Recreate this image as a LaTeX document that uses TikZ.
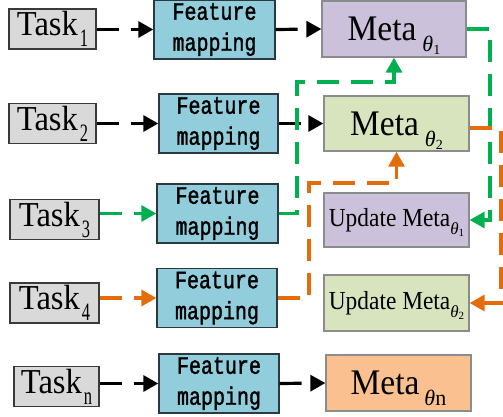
\documentclass[tikz,border=0pt]{standalone}
\usepackage{fontspec}
\usetikzlibrary{arrows.meta}
\newfontfamily\tfont[FakeStretch=0.93]{Liberation Serif}
\newfontfamily\ufont[FakeStretch=0.9]{Liberation Serif}
\newfontfamily\tsubfont[FakeStretch=0.66]{Liberation Serif}
\newfontfamily\mfont[FakeStretch=0.8,FakeBold=1.5]{Liberation Mono}
\newfontfamily\gfont{Liberation Serif}
\definecolor{taskfill}{HTML}{D9D9D9}
\definecolor{taskline}{HTML}{3A3A3A}
\definecolor{fmfill}{HTML}{92CDDC}
\definecolor{fmline}{HTML}{2B3A40}
\definecolor{metaline}{HTML}{8C8C8C}
\definecolor{purp}{HTML}{CCC1DA}
\definecolor{lgreen}{HTML}{D7E4BD}
\definecolor{peach}{HTML}{FAC090}
\definecolor{grn}{HTML}{00B050}
\definecolor{org}{HTML}{E46C0A}
\newcommand\tasklbl[1]{{\fontsize{35}{35}\tfont Task}\hspace{2pt}{\fontsize{25}{25}\tsubfont\raisebox{-11pt}{#1}}}
\newcommand\metalbl[1]{{\fontsize{36}{36}\tfont Meta}\hspace{6pt}\raisebox{-11pt}[0pt][0pt]{\fontsize{22}{22}\gfont\itshape θ\raisebox{-3pt}{\fontsize{14}{14}\upshape #1}}}
\newcommand\metanlbl{{\fontsize{36}{36}\tfont Meta}\hspace{5pt}\raisebox{-11pt}[0pt][0pt]{\fontsize{22}{22}\gfont\itshape θ\upshape n}}
\newcommand\updlbl[1]{{\fontsize{26}{26}\ufont Update Meta}\raisebox{-8pt}[0pt][0pt]{\fontsize{17}{17}\gfont\itshape θ\raisebox{-2.5pt}{\fontsize{11}{11}\upshape #1}}}
\begin{document}
\begin{tikzpicture}[x=1pt,y=-1pt,
  taskbox/.style={draw=taskline, fill=taskfill, line width=1.4pt, minimum height=40pt, inner sep=0pt},
  fmbox/.style={draw=fmline, fill=fmfill, line width=1.3pt, minimum width=120pt, minimum height=59pt, inner sep=0pt, align=center, font=\fontsize{25}{31}\mfont},
  metabox/.style={draw=metaline, line width=1.3pt, minimum width=145pt, minimum height=55pt, inner sep=0pt},
  conn/.style={line width=3.2pt, dash pattern=on 22pt off 12pt, -{Triangle[length=15pt,width=16pt]}},
  blk/.style={conn, draw=black},
  gline/.style={conn, draw=grn},
  oline/.style={conn, draw=org}]
\useasboundingbox (0,0) rectangle (503,417);
% tasks
\node[taskbox, minimum width=87pt] (task1) at (52.5,29) {\tasklbl{1}};
\node[taskbox, minimum width=87pt] (task2) at (52.5,123.5) {\tasklbl{2}};
\node[taskbox, minimum width=89pt] (task3) at (54.5,219.5) {\tasklbl{3}};
\node[taskbox, minimum width=89pt] (task4) at (54.5,303) {\tasklbl{4}};
\node[taskbox, minimum width=85pt] (taskn) at (56.5,386.5) {\tasklbl{n}};
% feature mapping
\node[fmbox, minimum width=121pt] (fm1) at (214.5,29.5) {Feature\\mapping};
\node[fmbox, minimum width=119pt] (fm2) at (218.5,123.5) {Feature\\mapping};
\node[fmbox, minimum width=121pt] (fm3) at (217.5,213.5) {Feature\\mapping};
\node[fmbox] (fm4) at (217,298) {Feature\\mapping};
\node[fmbox] (fmn) at (219,383.5) {Feature\\mapping};
% meta
\node[metabox, fill=purp, minimum width=144pt, minimum height=56pt] (meta1) at (394,29) {\metalbl{1}};
\node[metabox, fill=lgreen] (meta2) at (396.5,123.5) {\metalbl{2}};
\node[metabox, fill=purp, minimum height=54pt] (up1) at (396.5,220) {\updlbl{1}};
\node[metabox, fill=lgreen, minimum height=56pt] (up2) at (396.5,303) {\updlbl{2}};
\node[metabox, fill=peach, minimum height=56pt] (metan) at (398.5,383) {\metanlbl};
% coordinates
\coordinate (g1) at (297,82);
\coordinate (g2) at (490,220);
\coordinate (o1) at (309,183);
\coordinate (o2) at (501,303);
% connectors
\draw[blk] (task1.east |- fm1.west) -- (fm1.west);
\draw[blk] (task2.east |- fm2.west) -- (fm2.west);
\draw[gline] (task3.east |- fm3.west) -- (fm3.west);
\draw[oline] (task4.east |- fm4.west) -- (fm4.west);
\draw[blk] (taskn.east |- fmn.west) -- (fmn.west);
\draw[blk] (fm1.east) -- (meta1.west);
\draw[blk] (fm2.east) -- (meta2.west);
\draw[blk] (fmn.east) -- (metan.west);
\draw[gline] (fm3.east) -| (g1) -| (meta1.south);
\draw[gline] (meta1.east) -| (g2) -- (up1.east);
\draw[oline] (fm4.east) -| (o1) -| (meta2.south);
\draw[oline] ([yshift=-4.5pt]meta2.east) -| (o2) -- (up2.east);
\end{tikzpicture}
\end{document}
